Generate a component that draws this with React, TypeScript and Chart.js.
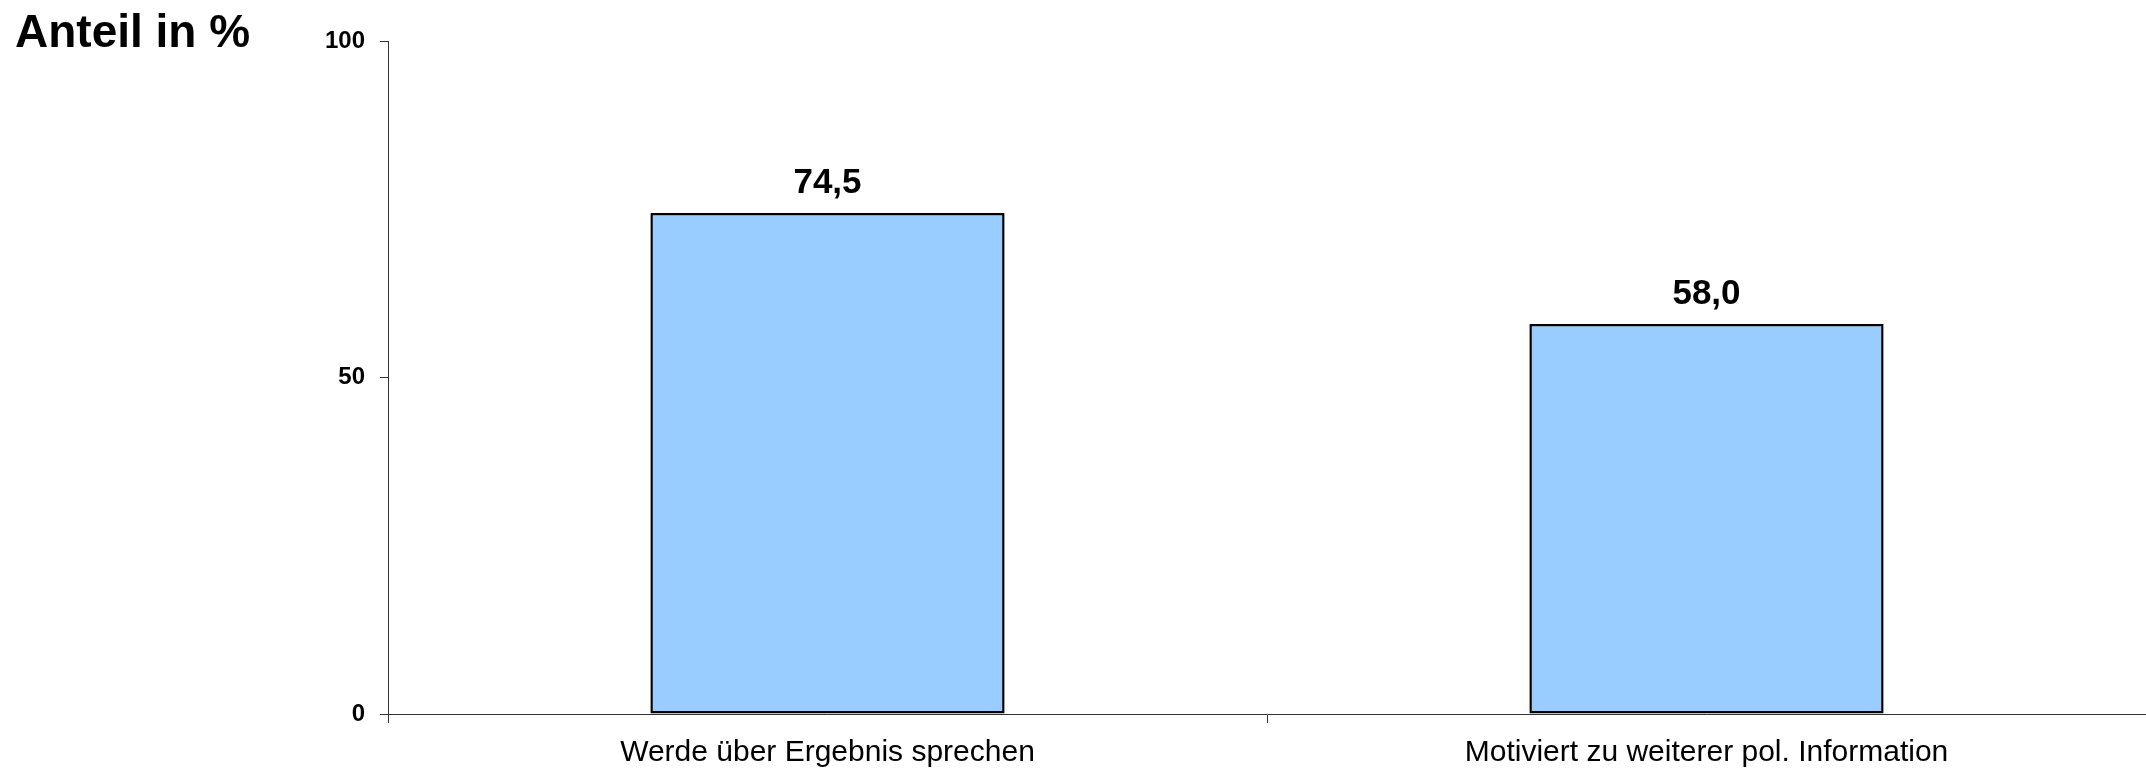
import React, { useEffect, useRef } from "react";
import { Chart, registerables } from "chart.js";

Chart.register(...registerables);

const categories: string[] = ["Werde über Ergebnis sprechen", "Motiviert zu weiterer pol. Information"];
const values: number[] = [74.5, 58.0];
const yTicks: number[] = [0, 50, 100];
const yAxisTitle = "Anteil in %";

const FONT = "'Liberation Sans', Arial, sans-serif";

const valueLabelPlugin = {
  id: "valueLabels",
  afterDatasetsDraw(chart: any) {
    const ctx = chart.ctx;
    const meta = chart.getDatasetMeta(0);
    ctx.save();
    ctx.font = `bold 35px ${FONT}`;
    ctx.fillStyle = "#000";
    ctx.textAlign = "center";
    ctx.textBaseline = "alphabetic";
    meta.data.forEach((bar: any, i: number) => {
      const v = values[i];
      const txt = v.toFixed(1).replace(".", ",");
      ctx.fillText(txt, bar.x, bar.y - 20);
    });
    ctx.restore();
  },
};

const titlePlugin = {
  id: "cornerTitle",
  afterDraw(chart: any) {
    const ctx = chart.ctx;
    ctx.save();
    ctx.font = `bold 46px ${FONT}`;
    ctx.fillStyle = "#000";
    ctx.textAlign = "left";
    ctx.textBaseline = "alphabetic";
    ctx.fillText(yAxisTitle, 15, 47);
    ctx.restore();
  },
};

export default function App() {
  const ref = useRef<HTMLCanvasElement | null>(null);

  useEffect(() => {
    if (!ref.current) return;
    const chart = new Chart(ref.current, {
      type: "bar",
      data: {
        labels: categories,
        datasets: [
          {
            data: values,
            backgroundColor: "#99CCFF",
            borderColor: "#000000",
            borderWidth: 2.5,
            borderSkipped: false,
            categoryPercentage: 1,
            barPercentage: 0.403,
          },
        ],
      },
      options: {
        animation: false,
        responsive: false,
        maintainAspectRatio: false,
        devicePixelRatio: 1,
        layout: { padding: { top: 41.5, left: 0, right: 0, bottom: 0 } },
        plugins: {
          legend: { display: false },
          tooltip: { enabled: false },
          title: { display: false },
        },
        scales: {
          x: {
            offset: true,
            grid: {
              offset: true,
              drawOnChartArea: false,
              drawTicks: true,
              tickLength: 9,
              color: "#333333",
              lineWidth: 1,
            },
            border: { display: true, color: "#333333", width: 1 },
            ticks: {
              color: "#000",
              font: { family: FONT, size: 30 },
              padding: 12,
              maxRotation: 0,
              autoSkip: false,
            },
            afterFit(scale: any) {
              scale.height = 56;
            },
          },
          y: {
            min: 0,
            max: 100,
            afterBuildTicks(scale: any) {
              scale.ticks = yTicks.map((v) => ({ value: v }));
            },
            grid: {
              drawOnChartArea: false,
              drawTicks: true,
              tickLength: 8,
              color: "#333333",
              lineWidth: 1,
            },
            border: { display: true, color: "#333333", width: 1 },
            ticks: {
              color: "#000",
              font: { family: FONT, size: 24, weight: "bold" },
              padding: 15,
              callback: (v: any) => String(v),
            },
            afterFit(scale: any) {
              scale.width = 388;
            },
          },
        },
      },
      plugins: [valueLabelPlugin, titlePlugin],
    });
    return () => chart.destroy();
  }, []);

  return (
    <div style={{ position: "absolute", left: 0, top: 0, width: 2146, height: 770, background: "#fff" }}>
      <canvas ref={ref} width={2146} height={770} style={{ width: 2146, height: 770, display: "block" }} />
    </div>
  );
}
